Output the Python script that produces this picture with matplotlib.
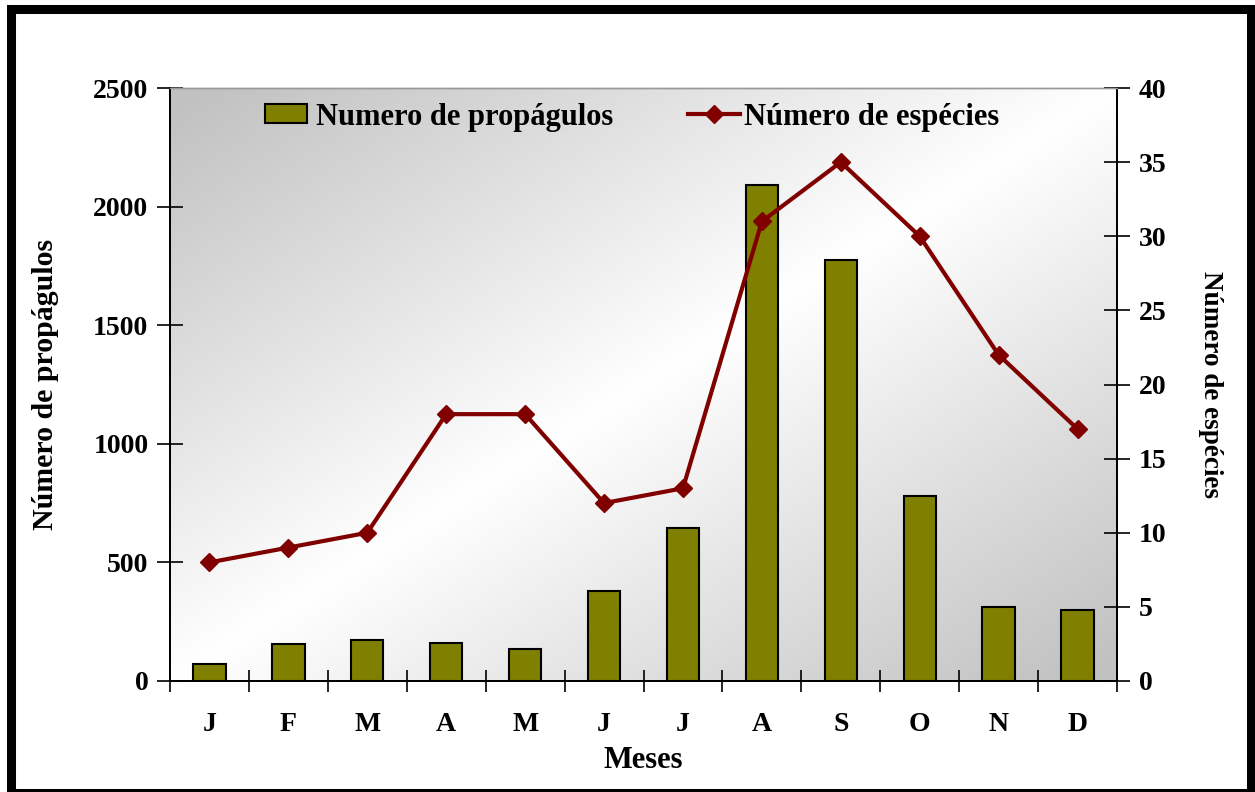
import matplotlib
matplotlib.use("Agg")
import matplotlib.pyplot as plt
import numpy as np
from matplotlib.patches import Rectangle
from matplotlib.lines import Line2D
from matplotlib.patches import Patch

months = ["J", "F", "M", "A", "M", "J", "J", "A", "S", "O", "N", "D"]
propagulos = [72, 156, 173, 160, 135, 379, 645, 2091, 1775, 780, 312, 299]
especies = [8, 9, 10, 18, 18, 12, 13, 31, 35, 30, 22, 17]
left_ticks = [0, 500, 1000, 1500, 2000, 2500]
right_ticks = [0, 5, 10, 15, 20, 25, 30, 35, 40]

plt.rcParams['font.family'] = ['Liberation Serif', 'DejaVu Serif']
plt.rcParams['font.weight'] = 'bold'

W, H = 1255, 792
fig = plt.figure(figsize=(W / 100, H / 100), dpi=100)
ax = fig.add_axes([170 / W, 1 - 681 / H, (1117 - 170) / W, (681 - 88) / H])
ax2 = ax.twinx()

# gradient background
n = 300
u = np.linspace(0, 1, n)
v = np.linspace(0, 1, n)
U, V = np.meshgrid(u, v)
t = (U + V) / 2
g = 0.76 + 0.24 * np.clip(1 - np.abs(2 * t - 1) * 1.05, 0, 1)
img = np.dstack([g, g, g])
ax.imshow(img, extent=[0, 1, 0, 1], transform=ax.transAxes, aspect='auto',
          zorder=0, origin='upper')

x = np.arange(len(months))
ax.bar(x, propagulos, width=0.41, color='#808000', edgecolor='black',
       linewidth=1.5, zorder=2)
ax.set_xlim(-0.5, len(months) - 0.5)
ax.set_ylim(0, 2500)
ax.set_yticks(left_ticks)
ax.set_xticks(x)
ax.set_xticklabels(months)
ax.set_xticks(np.arange(-0.5, len(months), 1), minor=True)
ax.tick_params(axis='x', which='major', length=0, pad=22, labelsize=20)
ax.tick_params(axis='x', which='minor', length=16, direction='inout', width=1.2)
ax.tick_params(axis='y', length=19, direction='inout', width=1.2, labelsize=20, pad=6)

ax2.plot(x, especies, color='#800000', linewidth=3.0, marker='D',
         markersize=9, zorder=3)
ax2.set_ylim(0, 40)
ax2.set_yticks(right_ticks)
ax2.tick_params(axis='y', length=19, direction='inout', width=1.2, labelsize=20, pad=6)

for a in (ax, ax2):
    a.spines['top'].set_color('#999999')
    a.spines['top'].set_linewidth(1.0)
    a.spines['left'].set_linewidth(1.3)
    a.spines['right'].set_linewidth(1.3)
    a.spines['bottom'].set_linewidth(1.3)
    for lab in a.get_yticklabels() + a.get_xticklabels():
        lab.set_fontweight('bold')

ax.set_xlabel('Meses', fontsize=22, fontweight='bold')
ax.set_ylabel('Número de propágulos', fontsize=21.5, fontweight='bold')
ax2.set_ylabel('Número de espécies', fontsize=19.5, fontweight='bold', rotation=270)
ax.xaxis.set_label_coords(0.5, (681 - 760) / 593)
ax.yaxis.set_label_coords((46 - 170) / 947, 0.5)
ax2.yaxis.set_label_coords((1210 - 170) / 947, 0.5)
for lbl in (ax.xaxis.label, ax.yaxis.label, ax2.yaxis.label):
    lbl.set_verticalalignment('center')
    lbl.set_horizontalalignment('center')
    lbl.set_rotation_mode('anchor')

fs_leg = 22
px = fs_leg * 100 / 72
leg_y = 1 - 117 / H
leg1 = fig.legend([Patch(facecolor='#808000', edgecolor='black', linewidth=1.5)],
                  ['Numero de propágulos'], loc='center left',
                  bbox_to_anchor=(265 / W, leg_y), bbox_transform=fig.transFigure,
                  frameon=False, prop={'size': fs_leg, 'weight': 'bold'},
                  borderpad=0, borderaxespad=0,
                  handlelength=42 / px, handleheight=18 / px, handletextpad=9 / px)
leg2 = fig.legend([Line2D([0], [0], color='#800000', linewidth=3.0, marker='D', markersize=9)],
                  ['Número de espécies'], loc='center left',
                  bbox_to_anchor=(688 / W, leg_y), bbox_transform=fig.transFigure,
                  frameon=False, prop={'size': fs_leg, 'weight': 'bold'},
                  borderpad=0, borderaxespad=0,
                  handlelength=52 / px, handletextpad=4 / px)

# outer frame
fig.patches.append(Rectangle((10.5 / W, -1 / H), (1250.5 - 10.5) / W, (783.5 + 1) / H,
                             transform=fig.transFigure, fill=False,
                             edgecolor='black', linewidth=6.5, clip_on=False))

fig.savefig('out.png', dpi=100)
